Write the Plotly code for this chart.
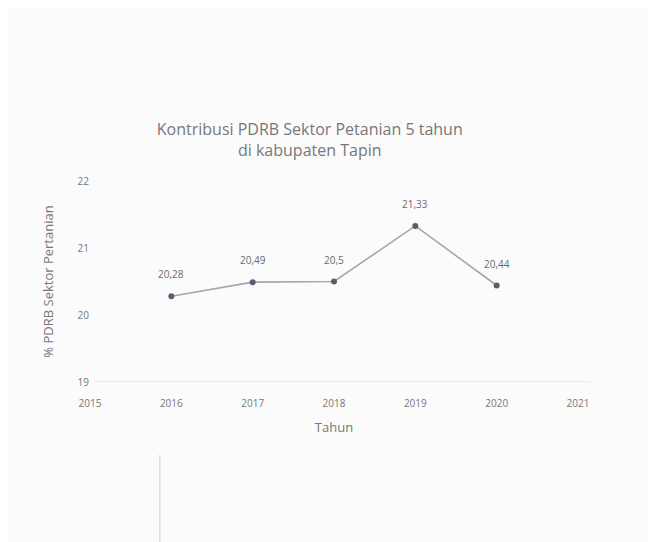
import plotly.graph_objects as go

years = [2016, 2017, 2018, 2019, 2020]
values = [20.28, 20.49, 20.5, 21.33, 20.44]
labels = ["20,28", "20,49", "20,5", "21,33", "20,44"]
x_ticks = [2015, 2016, 2017, 2018, 2019, 2020, 2021]
y_ticks = [19, 20, 21, 22]

fig = go.Figure()
fig.add_trace(go.Scatter(
    x=years, y=values, mode="lines+markers",
    line=dict(color="#a4a6b0", width=1.6),
    marker=dict(color="#5a5d70", size=6),
    cliponaxis=False, showlegend=False,
))

annotations = [
    dict(x=xv, y=yv, text=t, showarrow=False, yshift=22,
         font=dict(family="Open Sans", size=10, color="#6a6a6a"))
    for xv, yv, t in zip(years, values, labels)
]

fig.update_layout(
    width=656, height=542,
    paper_bgcolor="#fbfbfb", plot_bgcolor="rgba(0,0,0,0)",
    margin=dict(l=82, r=86, t=173, b=168),
    title=dict(text="Kontribusi PDRB Sektor Petanian 5 tahun<br>di kabupaten Tapin",
               x=0.46, xanchor="center", y=0.765, yanchor="middle",
               font=dict(family="Open Sans", size=16, color="#777777")),
    font=dict(family="Open Sans", color="#777777"),
    annotations=annotations,
    xaxis=dict(range=[2015, 2021], tickvals=x_ticks, showgrid=False, zeroline=False,
               showline=False, ticks="outside", ticklen=12, tickcolor="rgba(0,0,0,0)",
               tickfont=dict(size=10, color="#777777"),
               title=dict(text="Tahun", font=dict(size=13, color="#777777"), standoff=13)),
    yaxis=dict(range=[19, 22], tickvals=y_ticks, showgrid=False,
               zeroline=False, showline=False, tickfont=dict(size=10, color="#777777"),
               title=dict(text="% PDRB Sektor Pertanian", font=dict(size=13, color="#777777"), standoff=21)),
    shapes=[
        dict(type="line", xref="paper", yref="y", x0=0.01, x1=1.025, y0=19, y1=19,
             line=dict(color="#e4e4e4", width=1.5)),
        dict(type="line", xref="paper", yref="paper", x0=0.143, x1=0.143, y0=-0.8, y1=-0.363,
             line=dict(color="#dddddd", width=1.5)),
    ],
)

fig.write_html("out.html")
